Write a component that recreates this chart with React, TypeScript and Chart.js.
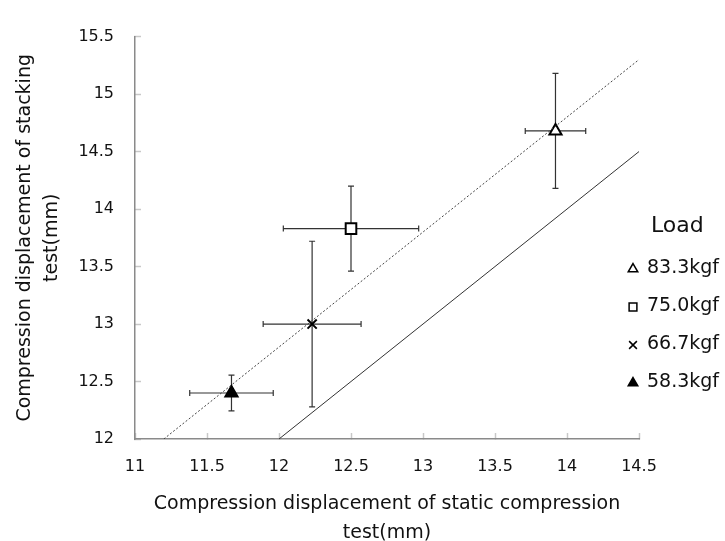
import React, { useEffect, useRef } from "react";
import { Chart, registerables } from "chart.js";
import { drawPoint } from "chart.js/helpers";

Chart.register(...registerables);

const FONT = "'DejaVu Sans', 'Noto Sans', sans-serif";

// Axis ranges / ticks
const xRange = [11, 14.5];
const yRange = [12, 15.5];
const tickStep = 0.5;

// Series (one point per load)
const loadLabels = ["83.3kgf", "75.0kgf", "66.7kgf", "58.3kgf"];
const staticDisp = [13.92, 12.5, 12.23, 11.67];
const staticErr = [0.21, 0.47, 0.34, 0.29];
const stackDisp = [14.68, 13.83, 13.0, 12.4];
const stackErr = [0.5, 0.37, 0.72, 0.155];
const markerStyles = ["triangle", "rect", "crossRot", "triangle"];
const markerFilled = [false, false, false, true];
const markerRadius = [7, 7.5, 6.5, 7];

// Reference lines
const equalLineX = [12, 14.5];
const equalLineY = [12, 14.5];
const fitLineX = [11.2, 14.5];
const fitLineY = [12, 15.3];

const fmtTick = (v: any) => String(Math.round(Number(v) * 10) / 10);

const errorBarPlugin = {
  id: "errorBars",
  beforeDatasetsDraw(chart: any) {
    const { ctx } = chart;
    const x = chart.scales.x;
    const y = chart.scales.y;
    ctx.save();
    ctx.strokeStyle = "#333";
    ctx.lineWidth = 1.2;
    const cap = 3;
    for (let i = 0; i < loadLabels.length; i++) {
      const cx = x.getPixelForValue(staticDisp[i]);
      const cy = y.getPixelForValue(stackDisp[i]);
      const xl = x.getPixelForValue(staticDisp[i] - staticErr[i]);
      const xr = x.getPixelForValue(staticDisp[i] + staticErr[i]);
      const yt = y.getPixelForValue(stackDisp[i] + stackErr[i]);
      const yb = y.getPixelForValue(stackDisp[i] - stackErr[i]);
      ctx.beginPath();
      ctx.moveTo(xl, cy); ctx.lineTo(xr, cy);
      ctx.moveTo(xl, cy - cap); ctx.lineTo(xl, cy + cap);
      ctx.moveTo(xr, cy - cap); ctx.lineTo(xr, cy + cap);
      ctx.moveTo(cx, yt); ctx.lineTo(cx, yb);
      ctx.moveTo(cx - cap, yt); ctx.lineTo(cx + cap, yt);
      ctx.moveTo(cx - cap, yb); ctx.lineTo(cx + cap, yb);
      ctx.stroke();
    }
    ctx.restore();
  },
};

const legendPlugin = {
  id: "loadLegend",
  afterDraw(chart: any) {
    const { ctx, chartArea } = chart;
    const right = chartArea.right;
    ctx.save();
    ctx.fillStyle = "#111";
    ctx.textBaseline = "middle";
    ctx.textAlign = "left";
    ctx.font = `22px ${FONT}`;
    ctx.fillText("Load", right + 12, 226);
    ctx.font = `19px ${FONT}`;
    for (let i = 0; i < loadLabels.length; i++) {
      const yy = 268 + i * 38;
      ctx.fillStyle = markerFilled[i] ? "#000" : "#fff";
      ctx.strokeStyle = "#000";
      ctx.lineWidth = 1.5;
      drawPoint(ctx, { pointStyle: markerStyles[i] as any, radius: 5.5, rotation: 0, borderWidth: 1.5 }, right - 6, yy + 1);
      ctx.fillStyle = "#111";
      ctx.fillText(loadLabels[i], right + 8, yy);
    }
    ctx.restore();
  },
};

export default function App() {
  const ref = useRef<HTMLCanvasElement | null>(null);

  useEffect(() => {
    if (!ref.current) return;
    const pointSets = loadLabels.map((lab, i) => ({
      label: lab,
      data: [{ x: staticDisp[i], y: stackDisp[i] }],
      pointStyle: markerStyles[i],
      pointRadius: markerRadius[i],
      pointBackgroundColor: markerFilled[i] ? "#000" : "#fff",
      pointBorderColor: "#000",
      pointBorderWidth: 2,
      showLine: false,
    }));
    const chart = new Chart(ref.current, {
      type: "scatter",
      data: {
        datasets: [
          {
            label: "y=x",
            data: equalLineX.map((v, i) => ({ x: v, y: equalLineY[i] })),
            showLine: true,
            borderColor: "#333",
            borderWidth: 1,
            pointRadius: 0,
          } as any,
          {
            label: "fit",
            data: fitLineX.map((v, i) => ({ x: v, y: fitLineY[i] })),
            showLine: true,
            borderColor: "#444",
            borderWidth: 1,
            borderDash: [2, 2],
            pointRadius: 0,
          },
          ...pointSets,
        ],
      },
      options: {
        animation: false,
        responsive: true,
        maintainAspectRatio: false,
        devicePixelRatio: 1,
        layout: { padding: { top: 24, right: 86, left: 0, bottom: 0 } },
        plugins: {
          legend: { display: false },
          tooltip: { enabled: false },
        },
        scales: {
          x: {
            type: "linear",
            min: xRange[0],
            max: xRange[1],
            ticks: {
              stepSize: tickStep,
              color: "#111",
              font: { family: FONT, size: 16 },
              padding: 24,
              maxRotation: 0,
              autoSkip: false,
              callback: fmtTick,
            },
            grid: {
              drawOnChartArea: false,
              tickLength: -6,
              color: "#c8c8c8",
              tickColor: "#c8c8c8",
              tickWidth: 1.5,
            },
            border: { color: "#8a8a8a", width: 1.5 },
            title: {
              display: true,
              text: ["Compression displacement of static compression", "test(mm)"],
              color: "#111",
              font: { family: FONT, size: 19, lineHeight: 1.5 },
              padding: { top: 0, bottom: -6.25 },
            },
            afterFit: (s: any) => {
              s.height = 102;
            },
          },
          y: {
            type: "linear",
            min: yRange[0],
            max: yRange[1],
            ticks: {
              stepSize: tickStep,
              color: "#111",
              font: { family: FONT, size: 16 },
              padding: 27,
              autoSkip: false,
              callback: fmtTick,
            },
            grid: {
              drawOnChartArea: false,
              tickLength: -6,
              color: "#c8c8c8",
              tickColor: "#c8c8c8",
              tickWidth: 1.5,
            },
            border: { color: "#8a8a8a", width: 1.5 },
            title: {
              display: true,
              text: ["Compression displacement of stacking", "test(mm)"],
              color: "#111",
              font: { family: FONT, size: 19, lineHeight: 1.42 },
              padding: { top: 11.5, bottom: 0 },
            },
            afterFit: (s: any) => {
              s.width = 135;
            },
          },
        },
      } as any,
      plugins: [errorBarPlugin, legendPlugin],
    });
    return () => chart.destroy();
  }, []);

  return (
    <div style={{ position: "fixed", left: 0, top: 0, width: 725, height: 541, background: "#fff" }}>
      <canvas ref={ref} />
    </div>
  );
}
